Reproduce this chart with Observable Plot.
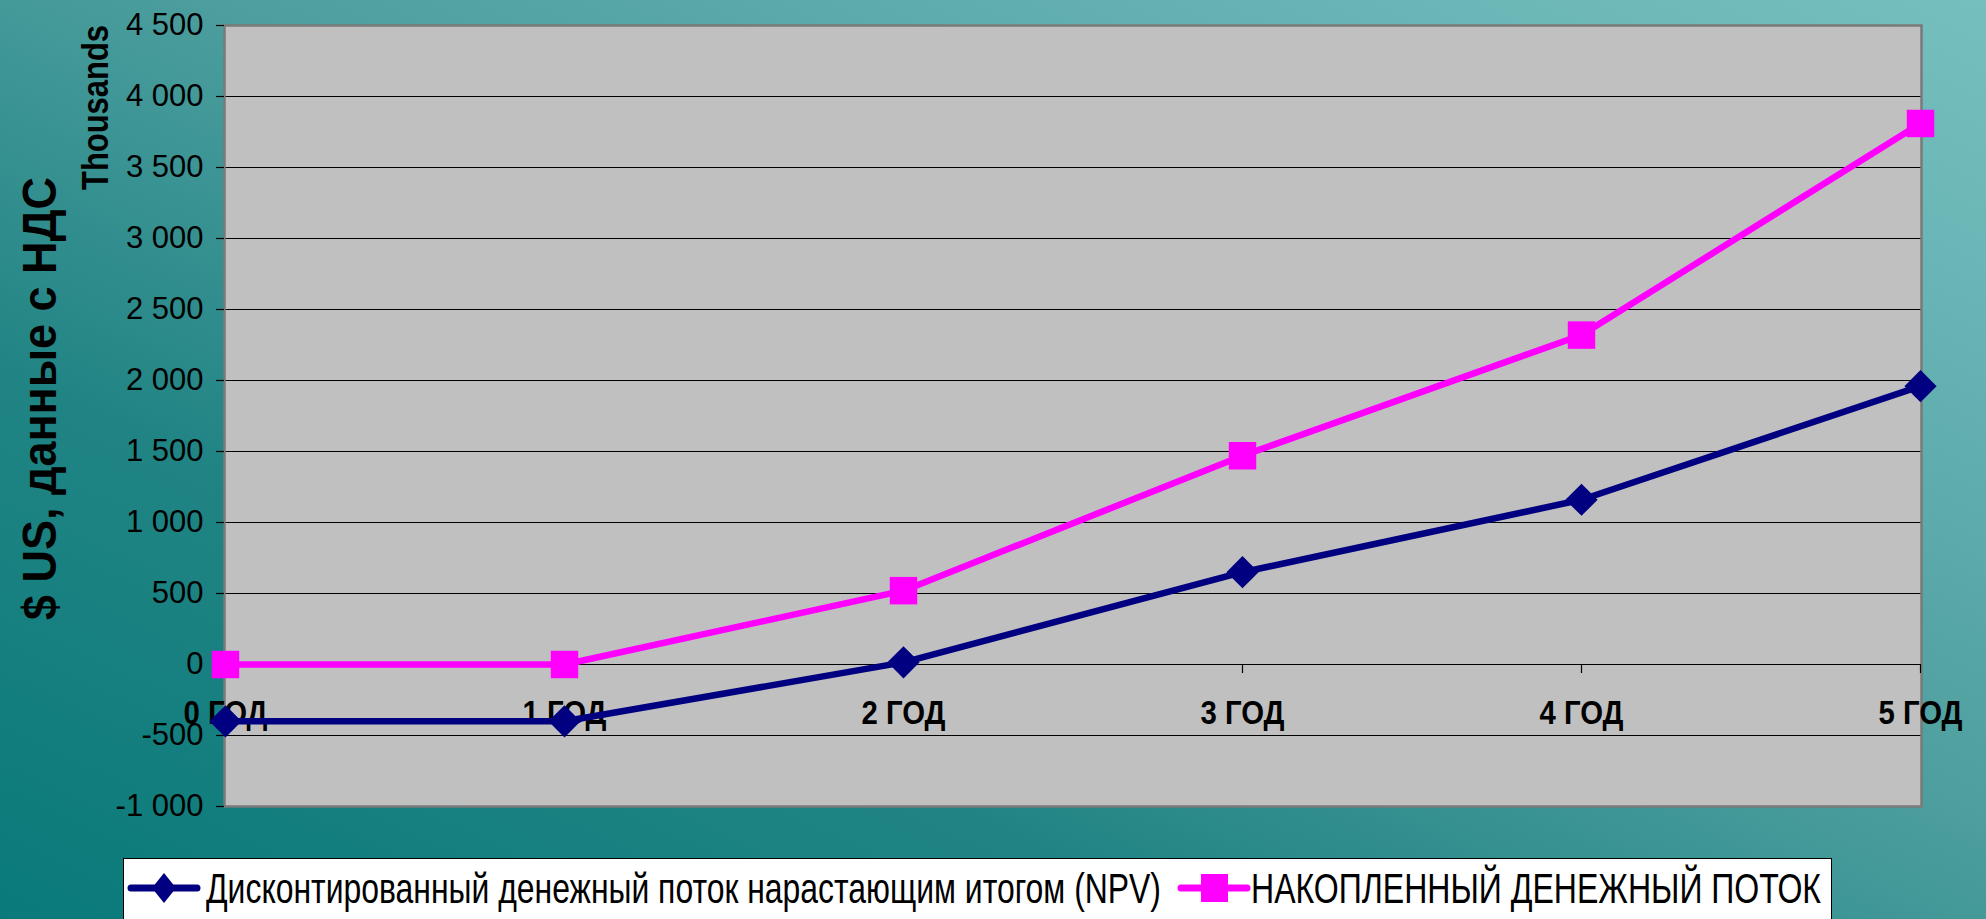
<!DOCTYPE html>
<html>
<head>
<meta charset="utf-8">
<script src="https://cdn.jsdelivr.net/npm/d3@7"></script>
<script src="https://cdn.jsdelivr.net/npm/@observablehq/plot@0.6"></script>
<style>
  html, body { margin: 0; padding: 0; width: 1986px; height: 919px; overflow: hidden; }
  body {
    position: relative;
    background: linear-gradient(to top right, #0a7a7a 0%, #218484 30%, #4d9e9e 55%, #66b2b2 80%, #76bfbf 100%);
    font-family: "Liberation Sans", Arial, sans-serif;
  }
  #chart { position: absolute; left: 0; top: 0; }
  #legend {
    position: absolute; left: 123px; top: 858px; width: 1709px; height: 90px;
    background: #ffffff; border: 1.5px solid #000; box-sizing: border-box;
  }
  .lt { position: absolute; top: 4px; white-space: nowrap; font-size: 43px; line-height: 50px;
        font-family: "Liberation Sans Narrow", "Arial Narrow", "Liberation Sans", Arial, sans-serif;
        transform-origin: 0 50%; color: #000; }
</style>
</head>
<body>
<div id="chart"></div>
<div id="legend"></div>
<script>
// ---- data ----
const years = ["0 ГОД", "1 ГОД", "2 ГОД", "3 ГОД", "4 ГОД", "5 ГОД"];
const npv = [-400, -400, 15, 650, 1160, 1960];
const accumulated = [0, 0, 520, 1470, 2320, 3810];
const yTicks = [-1000, -500, 0, 500, 1000, 1500, 2000, 2500, 3000, 3500, 4000, 4500];
const seriesNames = ["Дисконтированный денежный поток нарастающим итогом (NPV)", "НАКОПЛЕННЫЙ ДЕНЕЖНЫЙ ПОТОК"];
const seriesColors = ["#000080", "#ff00ff"];
const yTitle = "$ US, данные с НДС";
const yUnit = "Thousands";

// ---- layout ----
const W = 1986, H = 850;
const mL = 224, mR = 65, mT = 25, mB = 44;
const yDomain = [-1000, 4500];
const zeroOffset = -((0 - yDomain[0]) / (yDomain[1] - yDomain[0])) * (H - mT - mB);

const fmt = d3.formatLocale({decimal: ",", thousands: " ", grouping: [3], currency: ["", ""], minus: "-"}).format(",d");
const narrow = "Liberation Sans Narrow, Arial Narrow, Liberation Sans, Arial, sans-serif";

const npvData = years.map((y, i) => ({year: y, value: npv[i]}));
const accData = years.map((y, i) => ({year: y, value: accumulated[i]}));

const chart = Plot.plot({
  width: W, height: H,
  marginLeft: mL, marginRight: mR, marginTop: mT, marginBottom: mB,
  style: {background: "transparent", fontFamily: "Liberation Sans, Arial, sans-serif", color: "#000", overflow: "visible"},
  x: {type: "point", domain: years, padding: 0, axis: null},
  y: {domain: yDomain, axis: null},
  marks: [
    Plot.frame({fill: "#c0c0c0"}),
    Plot.ruleY(yTicks, {stroke: "#000", strokeWidth: 1.2}),
    Plot.frame({stroke: "#7a7a7a", strokeWidth: 2.5}),
    Plot.axisY({ticks: yTicks, tickFormat: fmt, tickSize: 8, tickPadding: 13, fontSize: 31, label: null, strokeWidth: 1.2}),
    Plot.axisX({tickSize: 9, tickPadding: 27, fontSize: 33, fontWeight: "bold", fontFamily: narrow, label: null, dy: zeroOffset, strokeWidth: 1.2}),
    Plot.line(npvData, {x: "year", y: "value", stroke: seriesColors[0], strokeWidth: 6.5}),
    Plot.dot(npvData, {x: "year", y: "value", symbol: "diamond2", r: 14.5, fill: seriesColors[0], stroke: "none"}),
    Plot.line(accData, {x: "year", y: "value", stroke: seriesColors[1], strokeWidth: 6.5}),
    Plot.dot(accData, {x: "year", y: "value", symbol: "square", r: 15.5, fill: seriesColors[1], stroke: "none"}),
    Plot.text([yTitle], {frameAnchor: "left", rotate: -90, dx: 40 - mL, dy: 398 - (mT + (H - mT - mB) / 2),
      text: d => d, fontSize: 48, fontWeight: "bold", textAnchor: "middle", lineAnchor: "middle", fontFamily: narrow}),
    Plot.text([yUnit], {frameAnchor: "left", rotate: -90, dx: 96 - mL, dy: 107 - (mT + (H - mT - mB) / 2),
      text: d => d, fontSize: 36, fontWeight: "bold", textAnchor: "middle", lineAnchor: "middle", fontFamily: narrow})
  ]
});
document.getElementById("chart").appendChild(chart);

// fit condensed texts to their widths in the reference
const fits = {[yTitle]: 443, [yUnit]: 165};
years.forEach(y => fits[y] = 84);
chart.querySelectorAll("text").forEach(t => {
  const s = t.textContent;
  if (fits[s] && t.children.length === 0) {
    t.setAttribute("textLength", fits[s]);
    t.setAttribute("lengthAdjust", "spacingAndGlyphs");
  }
});

// ---- legend ----
const legend = document.getElementById("legend");
const legendItems = [
  {left: 2, textLeft: 82, textWidth: 955, symbol: "diamond", color: seriesColors[0], name: seriesNames[0]},
  {left: 1052, textLeft: 1127, textWidth: 570, symbol: "square", color: seriesColors[1], name: seriesNames[1]}
];
const ns = "http://www.w3.org/2000/svg";
legendItems.forEach(it => {
  const sw = document.createElementNS(ns, "svg");
  sw.setAttribute("width", 78); sw.setAttribute("height", 60);
  sw.style.position = "absolute"; sw.style.left = it.left + "px"; sw.style.top = "0px";
  const ln = document.createElementNS(ns, "line");
  ln.setAttribute("x1", 5); ln.setAttribute("x2", 71); ln.setAttribute("y1", 29); ln.setAttribute("y2", 29);
  ln.setAttribute("stroke", it.color); ln.setAttribute("stroke-width", 7); ln.setAttribute("stroke-linecap", "round");
  sw.appendChild(ln);
  let shp;
  if (it.symbol === "diamond") {
    shp = document.createElementNS(ns, "path");
    shp.setAttribute("d", "M38,14 L50,29 L38,44 L26,29 Z");
  } else {
    shp = document.createElementNS(ns, "rect");
    shp.setAttribute("x", 25); shp.setAttribute("y", 15); shp.setAttribute("width", 27); shp.setAttribute("height", 28);
  }
  shp.setAttribute("fill", it.color);
  sw.appendChild(shp);
  legend.appendChild(sw);
  const sp = document.createElement("span");
  sp.className = "lt";
  sp.textContent = it.name;
  sp.style.left = it.textLeft + "px";
  legend.appendChild(sp);
  const w = sp.getBoundingClientRect().width;
  sp.style.transform = `scaleX(${it.textWidth / w})`;
});
</script>
</body>
</html>
